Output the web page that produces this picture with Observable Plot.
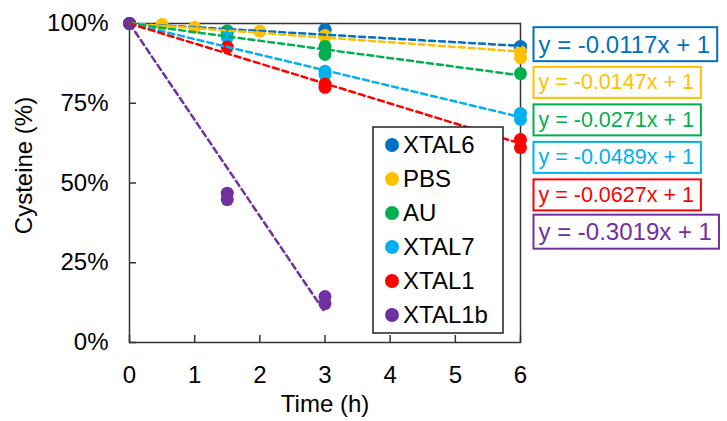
<!DOCTYPE html>
<html><head><meta charset="utf-8">
<script src="https://cdn.jsdelivr.net/npm/d3@7"></script>
<script src="https://cdn.jsdelivr.net/npm/@observablehq/plot@0.6"></script>
<style>
body{margin:0;background:#fff;}
#chart{width:727px;height:421px;}
</style></head><body><div id="chart"></div>
<script>
// ---- data ----
const seriesNames  = ["XTAL6", "PBS", "AU", "XTAL7", "XTAL1", "XTAL1b"];
const seriesColors = ["#0070C0", "#FFC000", "#00B050", "#00B0F0", "#FF0000", "#7030A0"];
const slopes       = [-0.0117, -0.0147, -0.0271, -0.0489, -0.0627, -0.3019];
const intercept    = 1;
const fitEnd       = [6, 6, 6, 6, 6, 3];
const xTicks = [0, 1, 2, 3, 4, 5, 6];
const yTicks = [0, 0.25, 0.5, 0.75, 1];

const xtal6T  = [0, 3, 3, 6, 6];
const xtal6V  = [1, 0.982, 0.978, 0.928, 0.925];
const pbsT    = [0, 0.5, 1, 2, 3, 3, 6, 6];
const pbsV    = [1, 0.997, 0.988, 0.976, 0.962, 0.958, 0.912, 0.893];
const auT     = [0, 1.5, 1.5, 3, 3, 6];
const auV     = [1, 0.977, 0.972, 0.928, 0.903, 0.843];
const xtal7T  = [0, 1.5, 3, 3, 6, 6];
const xtal7V  = [1, 0.957, 0.85, 0.84, 0.718, 0.699];
const xtal1T  = [0, 1.5, 3, 3, 6, 6];
const xtal1V  = [1, 0.926, 0.81, 0.80, 0.636, 0.611];
const xtal1bT = [0, 1.5, 1.5, 3, 3];
const xtal1bV = [1, 0.468, 0.448, 0.144, 0.122];

const timesBySeries  = [xtal6T, pbsT, auT, xtal7T, xtal1T, xtal1bT];
const valuesBySeries = [xtal6V, pbsV, auV, xtal7V, xtal1V, xtal1bV];

const points = seriesNames.flatMap((s, i) =>
  timesBySeries[i].map((t, j) => ({series: s, t, v: valuesBySeries[i][j]})));
const trend = seriesNames.flatMap((s, i) =>
  [0, fitEnd[i]].map(t => ({series: s, t, v: intercept + slopes[i] * t})));
const eqText = slopes.map(m => `y = ${m.toFixed(4)}x + ${intercept}`);
const eqSize = [24, 21.5, 21.5, 21.5, 21.5, 24];

const FONT = "Arial, 'Liberation Sans', sans-serif";
const axisColor = "#333";

const plot = Plot.plot({
  width: 727, height: 421,
  marginLeft: 129, marginRight: 207, marginTop: 23, marginBottom: 79,
  style: {fontFamily: FONT, fontSize: "24px", color: "#000", background: "#fff", overflow: "visible"},
  x: {domain: [0, 6]},
  y: {domain: [0, 1]},
  color: {domain: seriesNames, range: seriesColors},
  marks: [
    Plot.frame({stroke: axisColor, strokeWidth: 1.5}),
    Plot.axisX(xTicks, {tickSize: -7, tickPadding: 30, tickFormat: d => d, stroke: axisColor, strokeWidth: 1.5, fill: "#000", fontSize: 24, label: null}),
    Plot.axisY(yTicks, {tickSize: -7, tickPadding: 28, tickFormat: d3.format(".0%"), stroke: axisColor, strokeWidth: 1.5, fill: "#000", fontSize: 24, label: null}),
    Plot.dot(points, {x: "t", y: "v", fill: "series", r: 6.5}),
    Plot.line(trend, {x: "t", y: "v", z: "series", stroke: "series", strokeWidth: 2.5, strokeDasharray: "6,4"}),
    Plot.text(["Cysteine (%)"], {frameAnchor: "left", dx: -105, dy: -17.5, rotate: -90, textAnchor: "middle", lineAnchor: "middle", fontSize: 24, fill: "#000"}),
    Plot.text(["Time (h)"], {frameAnchor: "bottom", dy: 62, textAnchor: "middle", lineAnchor: "middle", fontSize: 24, fill: "#000"}),
    ...eqText.map((e, i) => Plot.text([e], {
      frameAnchor: "top-right", dx: 18, dy: 21.5 + 37.5 * i,
      textAnchor: "start", lineAnchor: "middle", fontSize: eqSize[i], fill: seriesColors[i]
    }))
  ]
});
document.getElementById("chart").appendChild(plot);

// equation boxes
const svg = d3.select(plot);
svg.selectAll("text").each(function() {
  const txt = this.textContent;
  const idx = eqText.indexOf(txt);
  if (idx < 0) return;
  const b = this.getBBox();
  d3.select(this.parentNode).insert("rect", "text")
    .attr("transform", this.getAttribute("transform"))
    .attr("x", b.x - 5).attr("y", b.y - 3.5)
    .attr("width", b.width + 12).attr("height", b.height + 7)
    .attr("fill", "#fff").attr("stroke", seriesColors[idx]).attr("stroke-width", 2);
});

// legend
const lg = svg.append("g").attr("font-family", FONT).attr("font-size", 24).attr("text-anchor", "start");
lg.append("rect").attr("x", 373).attr("y", 127).attr("width", 130).attr("height", 206)
  .attr("fill", "#fff").attr("stroke", "#222").attr("stroke-width", 1.5);
seriesNames.forEach((s, i) => {
  const cy = 145 + i * 34;
  lg.append("circle").attr("cx", 392).attr("cy", cy).attr("r", 7).attr("fill", seriesColors[i]);
  lg.append("text").attr("x", 403).attr("y", cy).attr("dy", "0.35em").attr("fill", "#000").text(s);
});
</script></body></html>
